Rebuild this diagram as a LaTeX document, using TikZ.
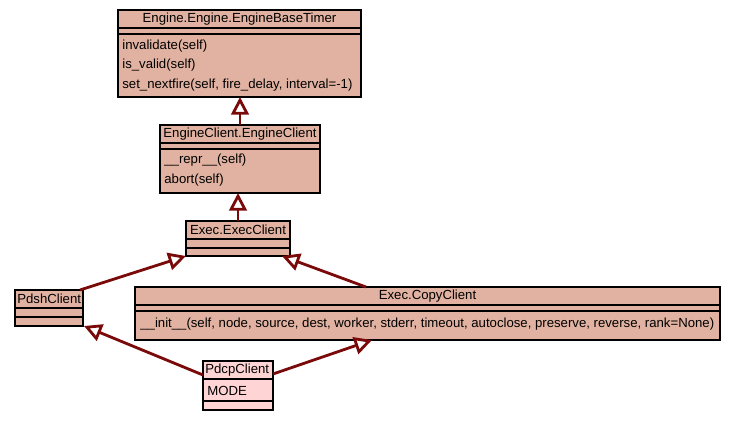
\documentclass[tikz,border=0pt]{standalone}
\usepackage{fontspec}
\setmainfont{Liberation Sans}
\usetikzlibrary{arrows.meta}
\definecolor{boxfill}{HTML}{E1B2A1}
\definecolor{pinkfill}{HTML}{FFD4D4}
\definecolor{inherit}{HTML}{7A0A0A}
\begin{document}
\begin{tikzpicture}[x=0.02cm,y=-0.02cm]
\tikzset{box/.style={draw,thick,fill=boxfill,inner sep=0pt,rectangle},
  lbl/.style={inner sep=0pt,font=\fontsize{7.5}{9}\selectfont},
  isa/.style={inherit,line width=1.6pt,-{Triangle[open,length=10pt,width=10pt,fill=white]}}}
\useasboundingbox (0,0) rectangle (736,421);
% classes
\draw[box] (118,10) rectangle (361,97);
\draw[thick] (118,28) -- (361,28) (118,34) -- (361,34);
\node[lbl] (tTimer) at (239.5,19) {Engine.Engine.EngineBaseTimer};
\node[lbl,anchor=west] (m1) at (122,46) {invalidate(self)};
\node[lbl,anchor=west] (m2) at (122,65) {is\_valid(self)};
\node[lbl,anchor=west] (m3) at (122,85) {set\_nextfire(self, fire\_delay, interval=-1)};
\coordinate (timerS) at (240,97);

\draw[box] (160,125) rectangle (320,193);
\draw[thick] (160,143) -- (320,143) (160,149) -- (320,149);
\node[lbl] (tEngine) at (240,134) {EngineClient.EngineClient};
\node[lbl,anchor=west] (m4) at (164,160) {\_\_repr\_\_(self)};
\node[lbl,anchor=west] (m5) at (164,180) {abort(self)};
\coordinate (engineN) at (240,125);
\coordinate (engineS) at (238,193);

\draw[box] (186,221) rectangle (290,256);
\draw[thick] (186,239) -- (290,239) (186,248) -- (290,248);
\node[lbl] (tExec) at (238,230) {Exec.ExecClient};
\coordinate (execN) at (238,221);
\coordinate (execSW) at (186,256);
\coordinate (execSE) at (282,256);

\draw[box] (15,290) rectangle (83,326);
\draw[thick] (15,308) -- (83,308) (15,317) -- (83,317);
\node[lbl,anchor=west] (tPdsh) at (17,299) {PdshClient};
\coordinate (pdshNE) at (80,290);
\coordinate (pdshSE) at (84,326);

\draw[box] (135,287) rectangle (720,340);
\draw[thick] (135,305) -- (720,305) (135,311) -- (720,311);
\node[lbl] (tCopy) at (427.5,296) {Exec.CopyClient};
\node[lbl,anchor=west] (m6) at (140,324) {\_\_init\_\_(self, node, source, dest, worker, stderr, timeout, autoclose, preserve, reverse, rank=None)};
\coordinate (copyN) at (366,287);
\coordinate (copyS) at (372,340);

\draw[box,fill=pinkfill] (203,361) rectangle (273,410);
\draw[thick] (203,379) -- (273,379) (203,401) -- (273,401);
\node[lbl,anchor=west] (tPdcp) at (205,370) {PdcpClient};
\node[lbl,anchor=west] (a1) at (207,391) {MODE};
\coordinate (pdcpW) at (203,375);
\coordinate (pdcpE) at (273,374);

% inheritance
\draw[isa] (engineN) -- (timerS);
\draw[isa] (execN) -- (engineS);
\draw[isa] (pdshNE) -- (execSW);
\draw[isa] (copyN) -- (execSE);
\draw[isa] (pdcpW) -- (pdshSE);
\draw[isa] (pdcpE) -- (copyS);
\end{tikzpicture}
\end{document}
